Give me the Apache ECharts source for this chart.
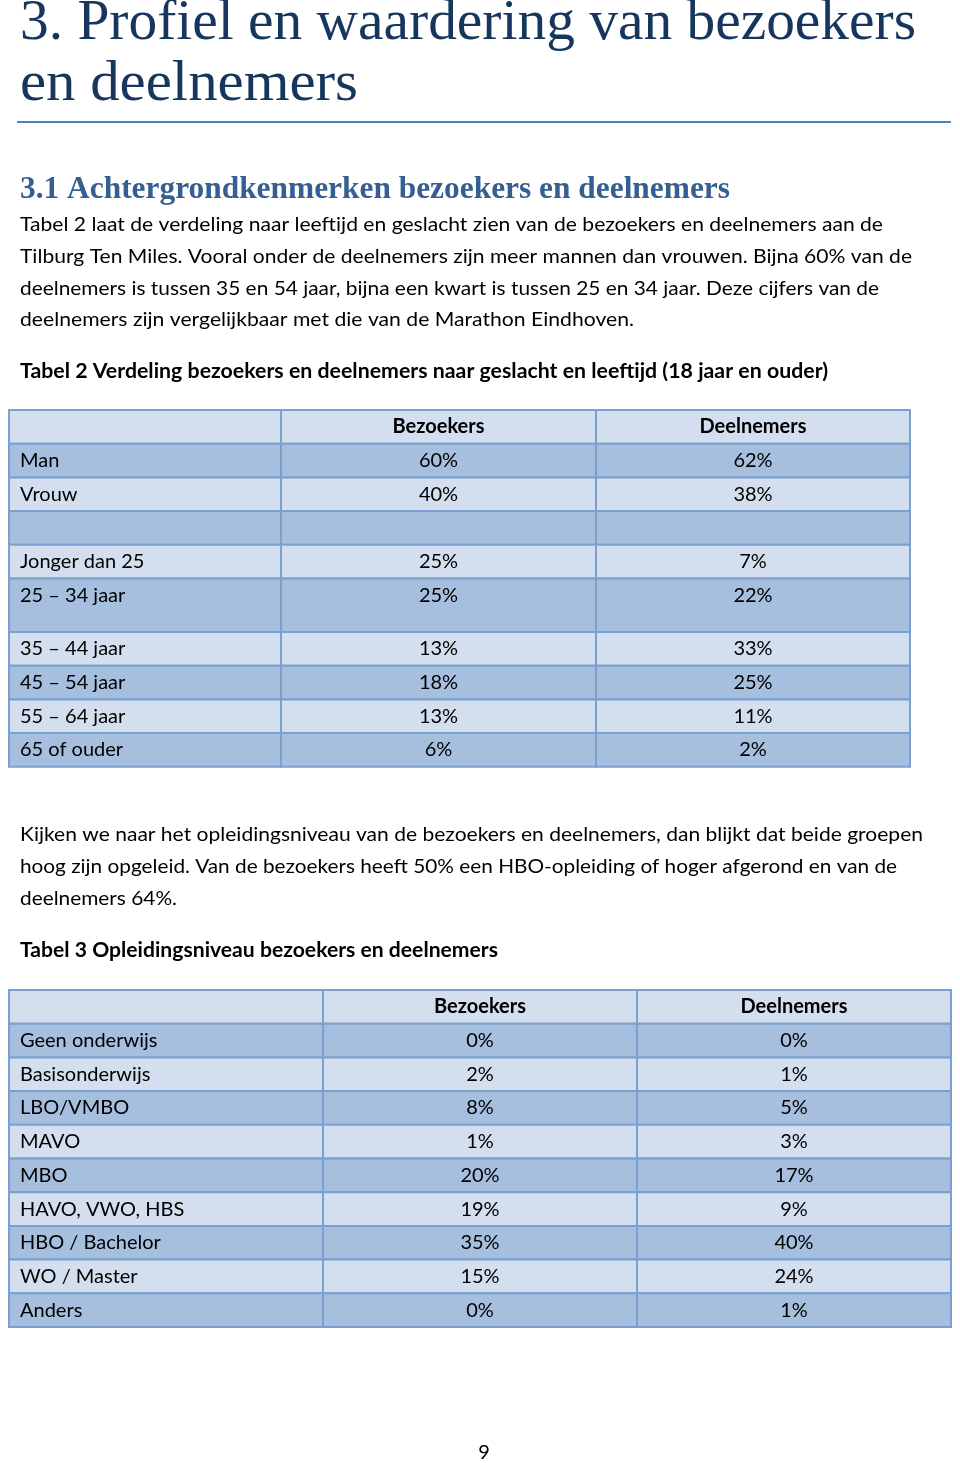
<!DOCTYPE html>
<html><head><meta charset="utf-8">
<script src="https://cdn.jsdelivr.net/npm/echarts@6/dist/echarts.min.js"></script>
<style>html,body{margin:0;padding:0;background:#fff}#c{width:960px;height:1463px}</style>
</head><body><div id="c"></div>
<script>
// ---------- text content ----------
const titleLines = ['3. Profiel en waardering van bezoekers', 'en deelnemers'];
const sectionHeading = '3.1 Achtergrondkenmerken bezoekers en deelnemers';
const para1 = [
  'Tabel 2 laat de verdeling naar leeftijd en geslacht zien van de bezoekers en deelnemers aan de',
  'Tilburg Ten Miles. Vooral onder de deelnemers zijn meer mannen dan vrouwen. Bijna 60% van de',
  'deelnemers is tussen 35 en 54 jaar, bijna een kwart is tussen 25 en 34 jaar. Deze cijfers van de',
  'deelnemers zijn vergelijkbaar met die van de Marathon Eindhoven.'
];
const caption1 = 'Tabel 2 Verdeling bezoekers en deelnemers naar geslacht en leeftijd (18 jaar en ouder)';
const para2 = [
  'Kijken we naar het opleidingsniveau van de bezoekers en deelnemers, dan blijkt dat beide groepen',
  'hoog zijn opgeleid. Van de bezoekers heeft 50% een HBO-opleiding of hoger afgerond en van de',
  'deelnemers 64%.'
];
const caption2 = 'Tabel 3 Opleidingsniveau bezoekers en deelnemers';
const pageNumber = '9';

// ---------- table data ----------
const columnHeaders = ['', 'Bezoekers', 'Deelnemers'];
const t1Categories = ['Man', 'Vrouw', '', 'Jonger dan 25', '25 – 34 jaar', '35 – 44 jaar', '45 – 54 jaar', '55 – 64 jaar', '65 of ouder'];
const t1Bezoekers = [60, 40, null, 25, 25, 13, 18, 13, 6];
const t1Deelnemers = [62, 38, null, 7, 22, 33, 25, 11, 2];
const t2Categories = ['Geen onderwijs', 'Basisonderwijs', 'LBO/VMBO', 'MAVO', 'MBO', 'HAVO, VWO, HBS', 'HBO / Bachelor', 'WO / Master', 'Anders'];
const t2Bezoekers = [0, 2, 8, 1, 20, 19, 35, 15, 0];
const t2Deelnemers = [0, 1, 5, 3, 17, 9, 40, 24, 1];

// ---------- styles / layout ----------
const LIGHT = '#D3DFEE', DARK = '#A7BFDE', BORDER = '#7BA0CD';
const BODY = 'Lato';
const tableFont = '20px "' + BODY + '"';
const tableFontBold = 'bold 20px "' + BODY + '"';
const tables = [
  { cats: t1Categories, a: t1Bezoekers, b: t1Deelnemers,
    left: 9, top: 410, colW: [272, 315, 314], rowH: [33.7, 33.7, 33.7, 33.7, 33.7, 53.5, 33.7, 33.7, 33.7, 33.7] },
  { cats: t2Categories, a: t2Bezoekers, b: t2Deelnemers,
    left: 9, top: 990, colW: [314, 314, 314], rowH: [33.7, 33.7, 33.7, 33.7, 33.7, 33.7, 33.7, 33.7, 33.7, 33.7] }
];

const mctx = document.createElement('canvas').getContext('2d');
function measure(text, font) { mctx.font = font; return mctx.measureText(text).width; }
function textEl(text, font, x, y, fill, scaleX, align) {
  return { type: 'text', x: x, y: y, scaleX: scaleX || 1, silent: true,
    style: { text: text, font: font, fill: fill, x: 0, y: 0,
      textAlign: align || 'left', align: align || 'left',
      textVerticalAlign: 'middle', verticalAlign: 'middle' } };
}
function fitEl(text, font, x, y, target, fill) {
  return textEl(text, font, x, y, fill, target / measure(text, font));
}

const graphics = [];
const titleFont = '57px "Liberation Serif"';
graphics.push(fitEl(titleLines[0], titleFont, 20, 24, 896, '#17365D'));
graphics.push(fitEl(titleLines[1], titleFont, 20, 85, 338, '#17365D'));
graphics.push({ type: 'line', silent: true, shape: { x1: 17, y1: 122, x2: 951, y2: 122 }, style: { stroke: '#4F81BD', lineWidth: 2 } });
graphics.push(fitEl(sectionHeading, 'bold 31px "Liberation Serif"', 20, 190, 710, '#365F91'));
const bodyFont = '20px "' + BODY + '"';
const bodyBold = 'bold 20px "' + BODY + '"';
const p1Targets = [863, 892, 859, 614];
const p1Y = [225, 257, 289, 320];
para1.forEach((t, i) => graphics.push(fitEl(t, bodyFont, 20, p1Y[i], p1Targets[i], '#000')));
graphics.push(fitEl(caption1, bodyBold, 20, 372, 808, '#000'));
const p2Targets = [903, 877, 157];
const p2Y = [835, 867, 899];
para2.forEach((t, i) => graphics.push(fitEl(t, bodyFont, 20, p2Y[i], p2Targets[i], '#000')));
graphics.push(fitEl(caption2, bodyBold, 20, 951, 478, '#000'));
graphics.push(textEl(pageNumber, bodyFont, 484, 1453, '#000', 1, 'center'));

// ---------- build table series ----------
const sum = arr => arr.reduce((s, v) => s + v, 0);
const cum = arr => { const o = [0]; arr.forEach(v => o.push(o[o.length - 1] + v)); return o; };
const grids = [], xAxes = [], yAxes = [], series = [];
tables.forEach((t, ti) => {
  const W = sum(t.colW), H = sum(t.rowH);
  const cx = cum(t.colW), cy = cum(t.rowH);
  grids.push({ left: t.left, top: t.top, width: W, height: H, show: false });
  xAxes.push({ type: 'value', gridIndex: ti, min: 0, max: W, show: false });
  yAxes.push({ type: 'value', gridIndex: ti, min: 0, max: H, inverse: true, show: false });
  const texts = [], data = [];
  const nRows = t.cats.length + 1;
  for (let r = 0; r < nRows; r++) {
    for (let c = 0; c < 3; c++) {
      let txt;
      if (r === 0) txt = columnHeaders[c];
      else if (c === 0) txt = t.cats[r - 1];
      else {
        const v = (c === 1 ? t.a : t.b)[r - 1];
        txt = v == null ? '' : v + '%';
      }
      texts.push(txt);
      data.push([c, r]);
    }
  }
  series.push({
    type: 'custom', xAxisIndex: ti, yAxisIndex: ti, clip: false, animation: false, silent: true,
    data: data,
    renderItem: function (params, api) {
      const c = api.value(0), r = api.value(1);
      const p0 = api.coord([cx[c], cy[r]]);
      const p1 = api.coord([cx[c + 1], cy[r + 1]]);
      const txt = texts[params.dataIndex];
      const ty = p0[1] + t.rowH[0] / 2;
      const tx = c === 0 ? p0[0] + 11 : (p0[0] + p1[0]) / 2;
      const al = c === 0 ? 'left' : 'center';
      return {
        type: 'group',
        children: [
          { type: 'rect', shape: { x: p0[0], y: p0[1], width: p1[0] - p0[0], height: p1[1] - p0[1] },
            style: { fill: r % 2 === 0 ? LIGHT : DARK, stroke: BORDER, lineWidth: 2 } },
          { type: 'text', x: tx, y: ty,
            style: { text: txt, font: r === 0 ? tableFontBold : tableFont, fill: '#000',
              textAlign: al, align: al, textVerticalAlign: 'middle', verticalAlign: 'middle' } }
        ]
      };
    }
  });
});

const chart = echarts.init(document.getElementById('c'), null, { renderer: 'canvas' });
chart.setOption({
  animation: false,
  backgroundColor: '#fff',
  grid: grids, xAxis: xAxes, yAxis: yAxes, series: series,
  graphic: { elements: graphics }
});
</script></body></html>
